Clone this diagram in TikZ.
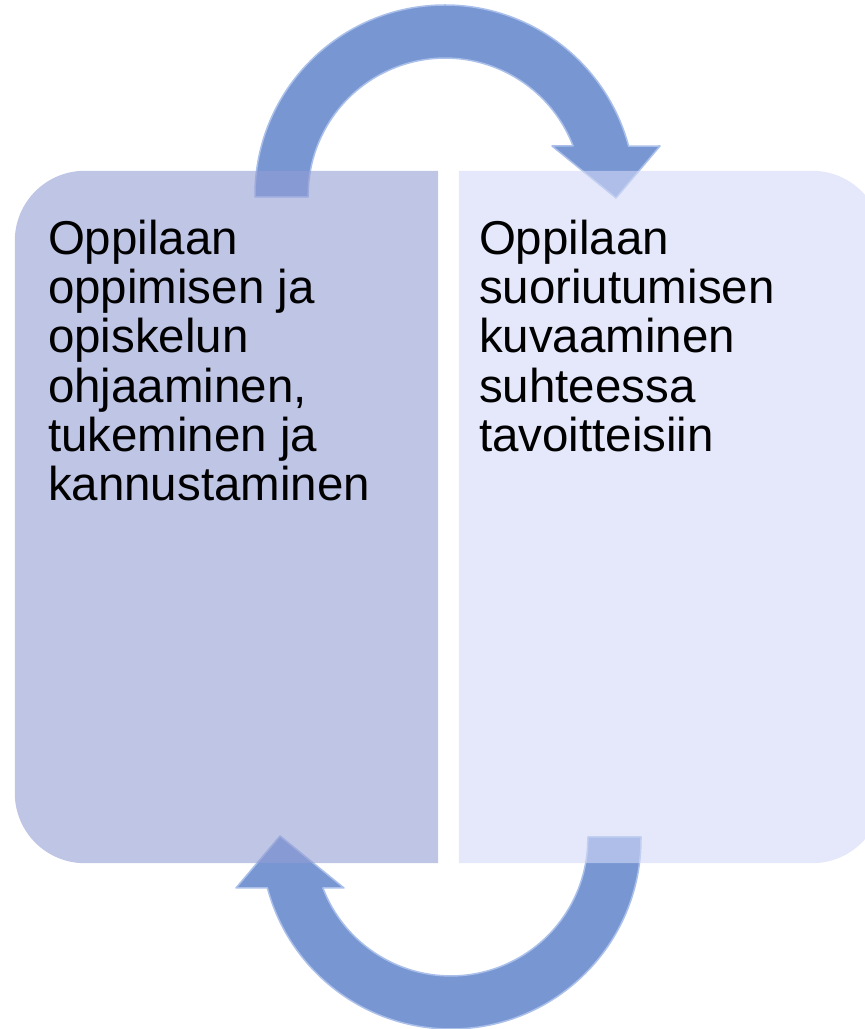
\documentclass[tikz,border=0pt]{standalone}
\usepackage{tikz}
\usepackage{xcolor}
\usepackage{fontspec}
\setmainfont{Liberation Sans}
\usetikzlibrary{positioning, calc}
\definecolor{leftfill}{RGB}{148,158,212}
\definecolor{rightfill}{RGB}{210,217,247}
\definecolor{arrowblue}{RGB}{120,150,210}
\definecolor{arrowedge}{RGB}{170,192,234}
\tikzstyle{panel} = [rectangle, minimum width=423pt, minimum height=692pt, inner sep=0pt]
\tikzstyle{panelfill} = [fill opacity=0.6]
\tikzstyle{paneltext} = [align=left, inner sep=0pt, anchor=north west, font={\fontsize{47.5}{49.2}\selectfont}]
\tikzstyle{cycarrow} = [fill=arrowblue, draw=arrowedge, line width=1.5pt, line join=round]
% half ring arrow, drawn round its centre
\newcommand{\cyclearrow}{(-190,-2) -- (-190,0) arc[start angle=180, end angle=14.9, radius=190pt] -- (215,49) -- (171,-3) -- (107,49) -- (128.1,49) arc[start angle=21, end angle=180, radius=137pt] -- (-137,-2) -- cycle}

\begin{document}
\begin{tikzpicture}[x=1pt, y=1pt]
    \useasboundingbox (0,0) rectangle (865,1029);
    \node (lbox) [panel] at (226.5,512) {};
    \node (rbox) [panel] at (670.5,512) {};
    \coordinate (toparc) at (445,834);
    \coordinate (botarc) at (451,190);
    % arrows first, panels over them
    \begin{scope}[shift={(toparc)}]
        \path [cycarrow] \cyclearrow;
    \end{scope}
    \begin{scope}[shift={(botarc)}, rotate=180]
        \path [cycarrow] \cyclearrow;
    \end{scope}
    \fill [leftfill, panelfill] (lbox.north east) -- (lbox.south east) -- ([xshift=70pt]lbox.south west) arc[start angle=270, end angle=180, radius=70pt] -- ([yshift=-70pt]lbox.north west) arc[start angle=180, end angle=90, radius=70pt] -- cycle;
    \fill [rightfill, panelfill] (rbox.north west) -- (rbox.south west) -- ([xshift=-70pt]rbox.south east) arc[start angle=270, end angle=360, radius=70pt] -- ([yshift=-70pt]rbox.north east) arc[start angle=0, end angle=90, radius=70pt] -- cycle;
    \node (ltext) [paneltext] at ([xshift=33pt, yshift=-49pt]lbox.north west) {Oppilaan\\oppimisen ja\\opiskelun\\ohjaaminen,\\tukeminen ja\\kannustaminen};
    \node (rtext) [paneltext] at ([xshift=20pt, yshift=-49pt]rbox.north west) {Oppilaan\\suoriutumisen\\kuvaaminen\\suhteessa\\tavoitteisiin};
\end{tikzpicture}
\end{document}
